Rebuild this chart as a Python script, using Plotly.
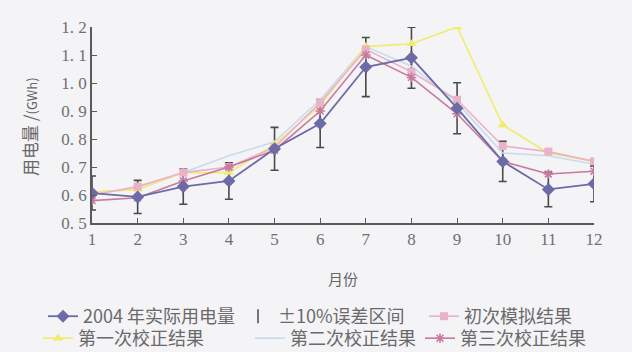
import plotly.graph_objects as go

months = [1, 2, 3, 4, 5, 6, 7, 8, 9, 10, 11, 12]
actual = [0.607, 0.593, 0.63, 0.65, 0.765, 0.855, 1.057, 1.09, 0.91, 0.72, 0.62, 0.64]
initial = [0.60, 0.63, 0.68, 0.70, 0.77, 0.93, 1.12, 1.04, 0.94, 0.775, 0.755, 0.72]
first = [0.61, 0.62, 0.68, 0.68, 0.78, 0.92, 1.13, 1.14, 1.20, 0.85, 0.75, 0.72]
second = [0.61, 0.62, 0.68, 0.74, 0.79, 0.94, 1.13, 1.06, 0.93, 0.75, 0.74, 0.71]
third = [0.58, 0.59, 0.65, 0.70, 0.76, 0.90, 1.10, 1.02, 0.89, 0.72, 0.675, 0.685]
err_ratio = 0.10
y_ticks = [0.5, 0.6, 0.7, 0.8, 0.9, 1.0, 1.1, 1.2]
y_ticktext = ["0. 5", "0. 6", "0. 7", "0. 8", "0. 9", "1. 0", "1. 1", "1. 2"]

names = ["2004 年实际用电量", "±10%误差区间", "初次模拟结果", "第一次校正结果", "第二次校正结果", "第三次校正结果"]

legend_font = dict(family="Noto Sans CJK SC", size=18, color="#6a6a6a")
axis_col = "#5a5a5a"

fig = go.Figure()

fig.add_trace(go.Scatter(
    x=months, y=actual, mode="markers", name=names[1], legend="legend2",
    marker=dict(symbol="line-ns-open", size=10, color="#4a4a4a", line=dict(width=1.5, color="#4a4a4a")),
    error_y=dict(type="percent", value=err_ratio * 100, color="#4a4a4a", thickness=1.6, width=4),
))
fig.add_trace(go.Scatter(
    x=months, y=second, mode="lines", name=names[4], legend="legend5",
    line=dict(color="#c6dbef", width=1.6),
))
fig.add_trace(go.Scatter(
    x=months, y=first, mode="lines+markers", name=names[3], legend="legend4",
    line=dict(color="#f1ec6c", width=1.6),
    marker=dict(symbol="triangle-up", size=9, color="#f1ec6c"),
))
fig.add_trace(go.Scatter(
    x=months, y=initial, mode="lines+markers", name=names[2], legend="legend3",
    line=dict(color="#eab2c8", width=1.6),
    marker=dict(symbol="square", size=8, color="#eab2c8"),
))
fig.add_trace(go.Scatter(
    x=months, y=third, mode="lines+markers", name=names[5], legend="legend6",
    line=dict(color="#c77aa0", width=1.6),
    marker=dict(symbol="asterisk-open", size=8, color="#c77aa0", line=dict(width=1.5, color="#c77aa0")),
))
fig.add_trace(go.Scatter(
    x=months, y=actual, mode="lines+markers", name=names[0], legend="legend",
    line=dict(color="#6c6ba8", width=1.8),
    marker=dict(symbol="diamond", size=10, color="#6c6ba8"),
))

leg_common = dict(font=legend_font, bgcolor="rgba(0,0,0,0)", xref="container", yref="container",
                  xanchor="left", yanchor="top", orientation="v", itemwidth=30)

row1, row2 = 298, 320

fig.update_layout(
    width=632, height=352, showlegend=True,
    paper_bgcolor="#f4f3f6", plot_bgcolor="#f4f3f6",
    margin=dict(l=92, r=38, t=27, b=129, autoexpand=False),
    legend=dict(x=43 / 632, y=1 - row1 / 352, **leg_common),
    legend2=dict(x=238 / 632, y=1 - row1 / 352, **leg_common),
    legend3=dict(x=424 / 632, y=1 - row1 / 352, **leg_common),
    legend4=dict(x=38 / 632, y=1 - row2 / 352, **leg_common),
    legend5=dict(x=250 / 632, y=1 - row2 / 352, **leg_common),
    legend6=dict(x=420 / 632, y=1 - row2 / 352, **leg_common),
    xaxis=dict(
        range=[1, 12], tickvals=months, showgrid=False, zeroline=False,
        showline=True, linecolor=axis_col, linewidth=1.5,
        ticks="inside", ticklen=5, tickcolor=axis_col, tickwidth=1.2,
        tickfont=dict(family="Liberation Serif", size=17, color="#707070"),
        title=dict(text="月份", font=dict(family="Noto Sans CJK SC", size=15, color="#666"), standoff=26),
    ),
    yaxis=dict(
        range=[0.5, 1.2], tickvals=y_ticks, ticktext=y_ticktext, showgrid=False, zeroline=False,
        showline=True, linecolor=axis_col, linewidth=1.5,
        ticks="inside", ticklen=5, tickcolor=axis_col, tickwidth=1.2,
        tickfont=dict(family="Liberation Serif", size=17, color="#707070"),
    ),
    annotations=[dict(
        text="用电量 /<span style='font-size:13px'>(GWh)</span>",
        font=dict(family="Noto Sans CJK SC", size=17, color="#666"),
        textangle=-90, xref="paper", yref="paper", x=-62 / 502, y=0.49,
        xanchor="center", yanchor="middle", showarrow=False,
    )],
)

fig.write_html("out.html")
